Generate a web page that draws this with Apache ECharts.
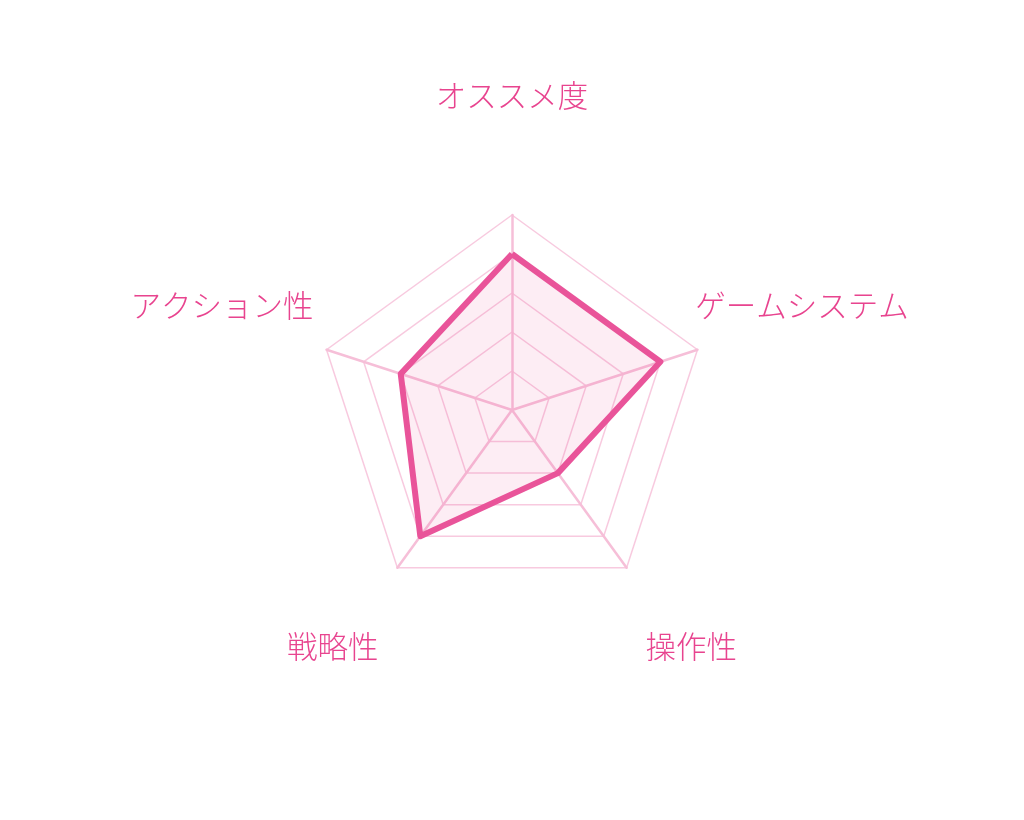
<!DOCTYPE html>
<html>
<head>
<meta charset="utf-8">
<script src="https://cdn.jsdelivr.net/npm/echarts@6/dist/echarts.min.js"></script>
<style>
html, body { margin: 0; padding: 0; background: #fff; }
#chart { width: 1024px; height: 820px; }
</style>
</head>
<body>
<div id="chart"></div>
<script>
// 項目と評価（5段階）— ECharts の並び順（上から反時計回り）
var indicatorNames = ['オススメ度', 'アクション性', '戦略性', '操作性', 'ゲームシステム'];
var scoreMax = 5;
var scores = [4, 3, 4, 2, 4];

var myChart = echarts.init(document.getElementById('chart'));

var option = {
	backgroundColor: '#ffffff',
	radar: {
		center: [512, 410],
		radius: 195,
		startAngle: 90,
		splitNumber: 5,
		nameGap: 110,
		shape: 'polygon',
		indicator: indicatorNames.map(function(n) {
			return { name: n, max: scoreMax, min: 0 };
		}),
		axisName: {
			align: 'center',
			verticalAlign: 'middle',
			// 空の2行目で文字を少し上へずらす
			formatter: function(name) {
				return '{a|' + name + '}\n{b|}';
			},
			rich: {
				a: {
					color: '#e8448f',
					fontSize: 30.5,
					fontFamily: 'Noto Sans CJK JP',
					fontWeight: 300,
					lineHeight: 36,
					align: 'center'
				},
				b: { lineHeight: 20, fontSize: 10 }
			}
		},
		splitLine: {
			lineStyle: { color: '#f8cadf', width: 1.5 }
		},
		splitArea: { show: false },
		axisLine: {
			lineStyle: { color: '#f6bfd8', width: 2.5 }
		}
	},
	series: [{
		type: 'radar',
		symbol: 'none',
		lineStyle: { color: '#e9549a', width: 6 },
		areaStyle: { color: 'rgba(233,85,154,0.15)' },
		data: [{ value: scores }]
	}]
};

myChart.setOption(option);
</script>
</body>
</html>
